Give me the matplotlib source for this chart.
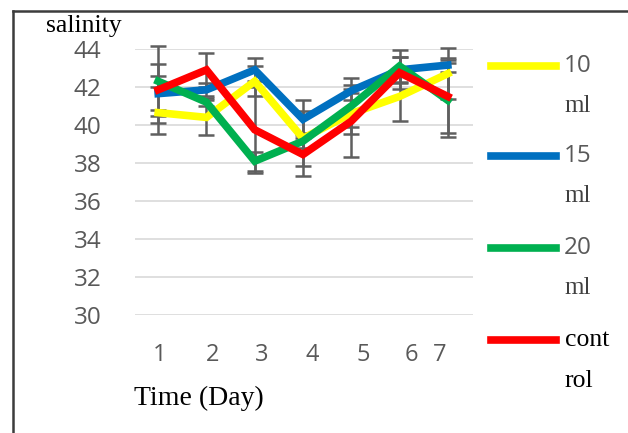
import matplotlib
matplotlib.use("Agg")
import matplotlib.pyplot as plt
from matplotlib.lines import Line2D

days = [1, 2, 3, 4, 5, 6, 7]
day_labels = ["1", "2", "3", "4", "5", "6", "7"]
y_ticks = [30, 32, 34, 36, 38, 40, 42, 44]

series_names = ["10\nml", "15\nml", "20\nml", "cont\nrol"]
sal_10ml = [40.65, 40.4, 42.3, 39.3, 40.6, 41.5, 42.7]
sal_15ml = [41.65, 41.85, 42.9, 40.3, 41.8, 42.9, 43.15]
sal_20ml = [42.3, 41.2, 38.1, 39.15, 41.0, 43.1, 41.3]
sal_control = [41.85, 42.9, 39.75, 38.45, 40.2, 42.75, 41.5]

err_10ml = [0.15, 0.9, 0.8, 1.45, 0.7, 1.3, 1.35]
err_15ml = [1.55, 0.35, 0.6, 1.0, 0.1, 0.7, 0.35]
err_20ml = [0.3, 0.2, 0.5, 0.35, 1.45, 0.85, 1.95]
err_control = [2.3, 0.9, 2.25, 1.15, 1.9, 0.85, 1.9]

colors = ["#FFFF00", "#0070C0", "#00B050", "#FF0000"]
values = [sal_10ml, sal_15ml, sal_20ml, sal_control]
errors = [err_10ml, err_15ml, err_20ml, err_control]

fig = plt.figure(figsize=(6.28, 4.33), dpi=100)
ax = fig.add_axes([0.215, 0.272, 0.538, 0.615])

# error bars first, in grey, underneath the coloured lines
for vals, errs in zip(values, errors):
    ax.errorbar(days, vals, yerr=errs, fmt="none", ecolor="#5f5f5f",
                elinewidth=1.8, capsize=5.5, capthick=1.8, zorder=2,
                clip_on=False)
for vals, col in zip(values, colors):
    ax.plot(days, vals, color=col, lw=5.5, solid_joinstyle="miter",
            zorder=3, clip_on=False)

ax.set_xlim(0.52, 7.52)
ax.set_ylim(30, 44)
ax.set_yticks(y_ticks)
ax.set_yticklabels([str(t) for t in y_ticks], fontsize=17.5,
                   color="#595959", family="Open Sans")
ax.yaxis.grid(True, color="#d9d9d9", lw=1.2, zorder=0)
ax.tick_params(axis="y", length=0, pad=24)
ax.tick_params(axis="x", length=0, pad=20)
ax.set_xticks([1.04, 2.12, 3.15, 4.2, 5.25, 6.25, 6.83])
ax.set_xticklabels(day_labels, fontsize=17, color="#595959",
                   family="Open Sans")
for s in ax.spines.values():
    s.set_visible(False)

fig.text(0.074, 0.94, "salinity", fontsize=18.5, family="Liberation Serif",
         color="black", ha="left", va="center")
fig.text(0.213, 0.079, "Time (Day)", fontsize=20, family="Liberation Serif",
         color="black", ha="left", va="center")

# outer frame: left and top edges
fig.add_artist(Line2D([0.021, 0.021], [0.0, 0.975], color="#3c3c3c", lw=1.8,
                      transform=fig.transFigure))
fig.add_artist(Line2D([0.021, 1.0], [0.975, 0.975], color="#3c3c3c", lw=1.8,
                      transform=fig.transFigure))

# legend drawn beside the plot
leg_y = [0.848, 0.640, 0.427, 0.214]
for name, col, yy in zip(series_names, colors, leg_y):
    fig.add_artist(Line2D([0.782, 0.886], [yy, yy], color=col, lw=5.5,
                          transform=fig.transFigure))
    first, second = name.split("\n")
    if first.isdigit():
        fig.text(0.897, yy, first, fontsize=17.5, family="Open Sans",
                 color="#595959", ha="left", va="center")
        fig.text(0.899, yy - 0.093, second, fontsize=18, family="Liberation Serif",
                 color="#404040", ha="left", va="center")
    else:
        fig.text(0.899, yy, first, fontsize=18.5, family="Liberation Serif",
                 color="black", ha="left", va="center")
        fig.text(0.899, yy - 0.093, second, fontsize=18.5, family="Liberation Serif",
                 color="black", ha="left", va="center")

fig.savefig("out.png", dpi=100)
